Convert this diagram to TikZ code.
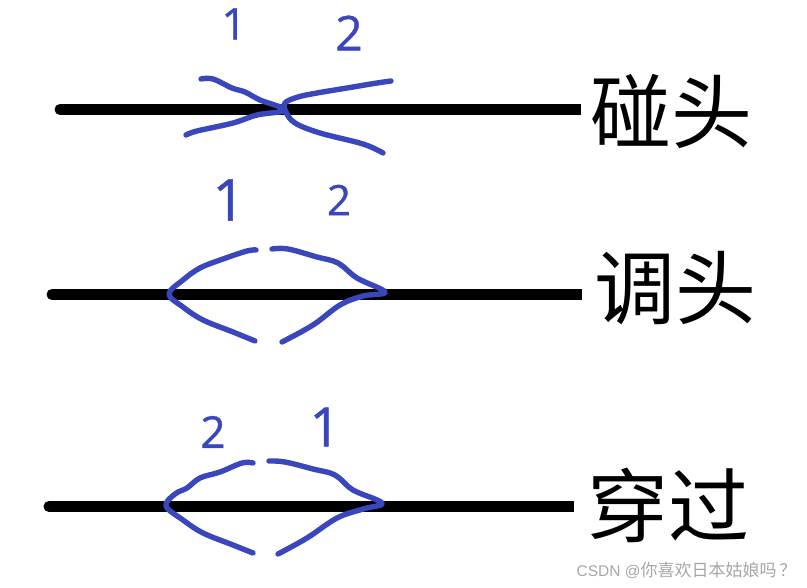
\documentclass[tikz,border=0pt]{standalone}
\usepackage{fontspec}
\usepackage[HTML]{xcolor}
\setmainfont{Liberation Sans}
\newfontfamily\cjk{Noto Sans CJK SC}
\newfontfamily\hand[FakeBold=0.9]{Open Sans}
\definecolor{penblue}{HTML}{3A47BC}
\definecolor{markgray}{HTML}{A6A6A6}
\tikzset{
    blackline/.style={line width=11pt, black},
    penline/.style={line width=5.4pt, penblue, line cap=round, line join=round},
    bigtext/.style={inner sep=0pt, font=\cjk\fontsize{81}{81}\selectfont},
    pendigit/.style={inner sep=0pt, text=penblue, font=\hand\fontsize{#1}{#1}\selectfont}
}
\begin{document}
\begin{tikzpicture}[x=1pt, y=-1pt]
    \useasboundingbox (0,0) rectangle (807,588);

    % 1. Black lines
    \coordinate (a1) at (60,109.5);
    \coordinate (a2) at (581,109.5);
    \coordinate (b1) at (52,294.5);
    \coordinate (b2) at (582,294.5);
    \coordinate (c1) at (49,506.5);
    \coordinate (c2) at (574,506.5);
    \draw[blackline, line cap=round] (a1) -- ([xshift=-6pt]a2);
    \draw[blackline] (a1) -- (a2);
    \draw[blackline, line cap=round] (b1) -- ([xshift=-6pt]b2);
    \draw[blackline] (b1) -- (b2);
    \draw[blackline, line cap=round] (c1) -- ([xshift=-6pt]c2);
    \draw[blackline] (c1) -- (c2);

    % 2. Labels on the right
    \node[bigtext] (peng) at (671,111) {碰头};
    \node[bigtext] (tiao) at (675,288) {调头};
    \node[bigtext] (chuan) at (668,505) {穿过};

    % 3. Top group
    \draw[penline] plot[smooth, tension=0.6] coordinates {(201,79) (213,79) (232,88) (245,92) (260,100) (285,110)
        (257,115) (233,123) (197,131) (186,135)};
    \draw[penline] plot[smooth, tension=0.6] coordinates {(391,81) (377,83) (347,88) (317,93) (298,97) (285,103)
        (286,112) (295,123) (320,133) (363,144) (383,153)};
    \node[pendigit=44] (topone) at (234,24) {1};
    \node[pendigit=48] (toptwo) at (349,33) {2};

    % 4. Middle group
    \draw[penline] plot[smooth, tension=0.6] coordinates {(256,250) (247,251) (223,259) (200,268) (183,280) (169,294)
        (183,307) (203,320) (233,332) (255,341)};
    \draw[penline] plot[smooth, tension=0.6] coordinates {(272,249) (288,249) (317,257) (338,263) (357,278) (385,292)
        (363,296) (340,305) (313,325) (282,342)};
    \node[pendigit=58] (midone) at (229,200) {1};
    \node[pendigit=42] (midtwo) at (339,200) {2};

    % 5. Bottom group
    \draw[penline] plot[smooth, tension=0.6] coordinates {(253,463) (242,463) (220,472) (200,478) (187,488) (175,494) (166,506)
        (183,520) (203,533) (233,545) (253,553)};
    \draw[penline] plot[smooth, tension=0.6] coordinates {(269,461) (285,462) (313,469) (335,475) (353,490) (382,503)
        (363,509) (337,518) (307,538) (278,554)};
    \node[pendigit=44] (lowtwo) at (213,432) {2};
    \node[pendigit=54] (lowone) at (325,427) {1};

    % 6. Watermark
    \node[inner sep=0pt, text=markgray, font=\fontsize{15.5}{16}\selectfont] (mark) at (686.5,570) {CSDN @{\cjk\fontsize{17}{17}\selectfont 你喜欢日本姑娘吗\,？}};
\end{tikzpicture}
\end{document}
